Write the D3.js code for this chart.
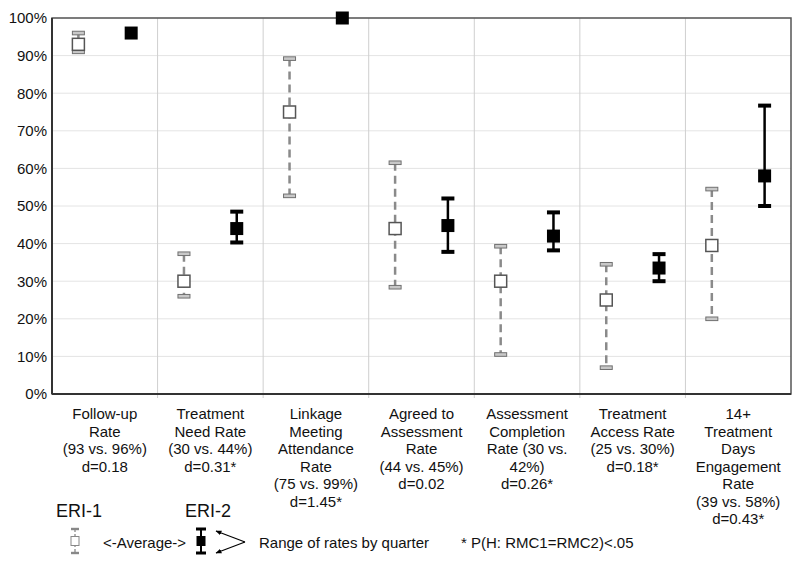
<!DOCTYPE html>
<html lang="en">
<head>
<meta charset="UTF-8">
<title>ERI-1 vs ERI-2 rates</title>
<style>
    body { margin: 0; background: #fff; }
    svg { display: block; font-family: Arial, "Liberation Sans", sans-serif; }
</style>
</head>
<body>
<svg></svg>
<script src="https://d3js.org/d3.v7.min.js"></script>
<script>
const categories = [
    ["Follow-up", "Rate", "(93 vs. 96%)", "d=0.18"],
    ["Treatment", "Need Rate", "(30 vs. 44%)", "d=0.31*"],
    ["Linkage", "Meeting", "Attendance", "Rate", "(75 vs. 99%)", "d=1.45*"],
    ["Agreed to", "Assessment", "Rate", "(44 vs. 45%)", "d=0.02"],
    ["Assessment", "Completion", "Rate (30 vs.", "42%)", "d=0.26*"],
    ["Treatment", "Access Rate", "(25 vs. 30%)", "d=0.18*"],
    ["14+", "Treatment", "Days", "Engagement", "Rate", "(39 vs. 58%)", "d=0.43*"]
];

// ERI-1 (average and range of quarterly rates), percent
const eri1Avg = [93, 30, 75, 44, 30, 25, 39.5];
const eri1Low = [91, 26, 52.7, 28.4, 10.5, 7, 20];
const eri1High = [96, 37.3, 89.2, 61.5, 39.3, 34.5, 54.5];

// ERI-2
const eri2Avg = [96, 44, 100, 44.8, 42, 33.5, 58];
const eri2Low = [null, 40.3, null, 37.8, 38.2, 30, 50];
const eri2High = [null, 48.5, null, 52, 48.3, 37.2, 76.7];

const yTicks = d3.range(0, 101, 10);

const width = 800, height = 566;
const plotL = 52, plotR = 791, plotT = 18, plotB = 394;

const svg = d3.select("svg").attr("width", width).attr("height", height);

const ids = categories.map((d, i) => i);
const x = d3.scaleBand().domain(ids).range([plotL, plotR]);
const y = d3.scaleLinear().domain([0, 100]).range([plotB, plotT]);

// horizontal grid
svg.append("g")
    .selectAll("line")
    .data(yTicks)
    .join("line")
    .attr("x1", plotL).attr("x2", plotR)
    .attr("y1", d => y(d)).attr("y2", d => y(d))
    .attr("stroke", "#e4e4e4");

// vertical separators between categories
svg.append("g")
    .selectAll("line")
    .data(ids.slice(1))
    .join("line")
    .attr("x1", d => x(d)).attr("x2", d => x(d))
    .attr("y1", plotT).attr("y2", plotB + 4)
    .attr("stroke", "#cfcfcf");

// frame
svg.append("rect")
    .attr("x", plotL).attr("y", plotT)
    .attr("width", plotR - plotL).attr("height", plotB - plotT)
    .attr("fill", "none").attr("stroke", "#555").attr("stroke-width", 1.5);
svg.append("line")
    .attr("x1", plotL).attr("x2", plotL).attr("y1", plotT).attr("y2", plotB)
    .attr("stroke", "#333").attr("stroke-width", 2);
svg.append("line")
    .attr("x1", plotL).attr("x2", plotR).attr("y1", plotB).attr("y2", plotB)
    .attr("stroke", "#333").attr("stroke-width", 2);

// y axis labels
const yAxis = svg.append("g")
    .attr("transform", `translate(${plotL},0)`)
    .call(d3.axisLeft(y).tickValues(yTicks).tickFormat(d => d + "%").tickSize(0).tickPadding(5));
yAxis.select(".domain").remove();
yAxis.selectAll("text")
    .attr("font-size", 15)
    .attr("font-family", "Arial, 'Liberation Sans', sans-serif")
    .attr("fill", "#111");

// category labels
const xLab = svg.append("g")
    .selectAll("text")
    .data(categories)
    .join("text")
    .attr("text-anchor", "middle")
    .attr("font-size", 15)
    .attr("fill", "#111")
    .attr("x", (d, i) => x(i) + x.bandwidth() / 2)
    .attr("y", 419);
xLab.selectAll("tspan")
    .data(d => d)
    .join("tspan")
    .attr("x", function () { return this.parentNode.getAttribute("x"); })
    .attr("dy", (d, i) => i === 0 ? 0 : 17.5)
    .text(d => d);

const off = x.bandwidth() / 4;

// ERI-1 series
const s1 = ids.map(i => ({ i, avg: eri1Avg[i], lo: eri1Low[i], hi: eri1High[i] }));
const g1 = svg.append("g");
g1.selectAll("line")
    .data(s1)
    .join("line")
    .attr("x1", d => x(d.i) + off).attr("x2", d => x(d.i) + off)
    .attr("y1", d => y(d.hi)).attr("y2", d => y(d.lo))
    .attr("stroke", "#8a8a8a").attr("stroke-width", 2.5)
    .attr("stroke-dasharray", "8,5");
g1.selectAll("rect.cap")
    .data(s1.flatMap(d => [{ i: d.i, v: d.hi }, { i: d.i, v: d.lo }]))
    .join("rect")
    .attr("class", "cap")
    .attr("x", d => x(d.i) + off - 6).attr("y", d => y(d.v) - 1.8)
    .attr("width", 12).attr("height", 3.6)
    .attr("fill", "#c8c8c8").attr("stroke", "#707070").attr("stroke-width", 1);
g1.selectAll("rect.avg")
    .data(s1)
    .join("rect")
    .attr("class", "avg")
    .attr("x", d => x(d.i) + off - 6).attr("y", d => y(d.avg) - 6)
    .attr("width", 12).attr("height", 12)
    .attr("fill", "#fff").attr("stroke", "#555").attr("stroke-width", 1.5);

// ERI-2 series
const s2 = ids.map(i => ({ i, avg: eri2Avg[i], lo: eri2Low[i], hi: eri2High[i] }));
const withRange = s2.filter(d => d.lo != null);
const g2 = svg.append("g");
g2.selectAll("line")
    .data(withRange)
    .join("line")
    .attr("x1", d => x(d.i) + 3 * off).attr("x2", d => x(d.i) + 3 * off)
    .attr("y1", d => y(d.hi)).attr("y2", d => y(d.lo))
    .attr("stroke", "#000").attr("stroke-width", 2.5);
g2.selectAll("rect.cap")
    .data(withRange.flatMap(d => [{ i: d.i, v: d.hi }, { i: d.i, v: d.lo }]))
    .join("rect")
    .attr("class", "cap")
    .attr("x", d => x(d.i) + 3 * off - 6.5).attr("y", d => y(d.v) - 2)
    .attr("width", 13).attr("height", 4)
    .attr("fill", "#000");
g2.selectAll("rect.avg")
    .data(s2)
    .join("rect")
    .attr("class", "avg")
    .attr("x", d => x(d.i) + 3 * off - 6.5).attr("y", d => y(d.avg) - 6.5)
    .attr("width", 13).attr("height", 13)
    .attr("fill", "#000");

// legend
const leg = svg.append("g").attr("fill", "#111");
leg.append("text").attr("x", 56).attr("y", 517).attr("font-size", 18).text("ERI-1");
leg.append("text").attr("x", 185).attr("y", 517).attr("font-size", 18).text("ERI-2");
leg.append("text").attr("x", 103).attr("y", 548).attr("font-size", 15).text("<-Average->");
leg.append("text").attr("x", 259).attr("y", 548).attr("font-size", 15).text("Range of rates by quarter");
leg.append("text").attr("x", 461).attr("y", 548).attr("font-size", 15).text("* P(H: RMC1=RMC2)<.05");

// small legend glyphs
const i1 = leg.append("g").attr("transform", "translate(75,541)");
i1.append("line").attr("y1", -12).attr("y2", 12).attr("stroke", "#999").attr("stroke-width", 1.5).attr("stroke-dasharray", "3,2");
i1.selectAll("rect.cap").data([-12, 12]).join("rect").attr("class", "cap")
    .attr("x", -4).attr("y", d => d - 1.2).attr("width", 8).attr("height", 2.4)
    .attr("fill", "#888");
i1.append("rect").attr("x", -4).attr("y", -4.5).attr("width", 8).attr("height", 9)
    .attr("fill", "#fff").attr("stroke", "#888").attr("stroke-width", 1);

const i2 = leg.append("g").attr("transform", "translate(201,541)");
i2.append("line").attr("y1", -12).attr("y2", 12).attr("stroke", "#000").attr("stroke-width", 2);
i2.selectAll("rect.cap").data([-12, 12]).join("rect").attr("class", "cap")
    .attr("x", -5).attr("y", d => d - 1.5).attr("width", 10).attr("height", 3)
    .attr("fill", "#000");
i2.append("rect").attr("x", -4.5).attr("y", -5).attr("width", 9).attr("height", 10).attr("fill", "#000");

// arrows
svg.append("defs").append("marker")
    .attr("id", "arr")
    .attr("viewBox", "0 0 10 10")
    .attr("refX", 9).attr("refY", 5)
    .attr("markerWidth", 5).attr("markerHeight", 5)
    .attr("orient", "auto")
    .append("path").attr("d", "M0,1L10,5L0,9z").attr("fill", "#000");

[[216, 531], [216, 553]].forEach(p => {
    svg.append("line")
        .attr("x1", 245).attr("y1", 542)
        .attr("x2", p[0]).attr("y2", p[1])
        .attr("stroke", "#000").attr("stroke-width", 1.2)
        .attr("marker-end", "url(#arr)");
});
</script>
</body>
</html>
